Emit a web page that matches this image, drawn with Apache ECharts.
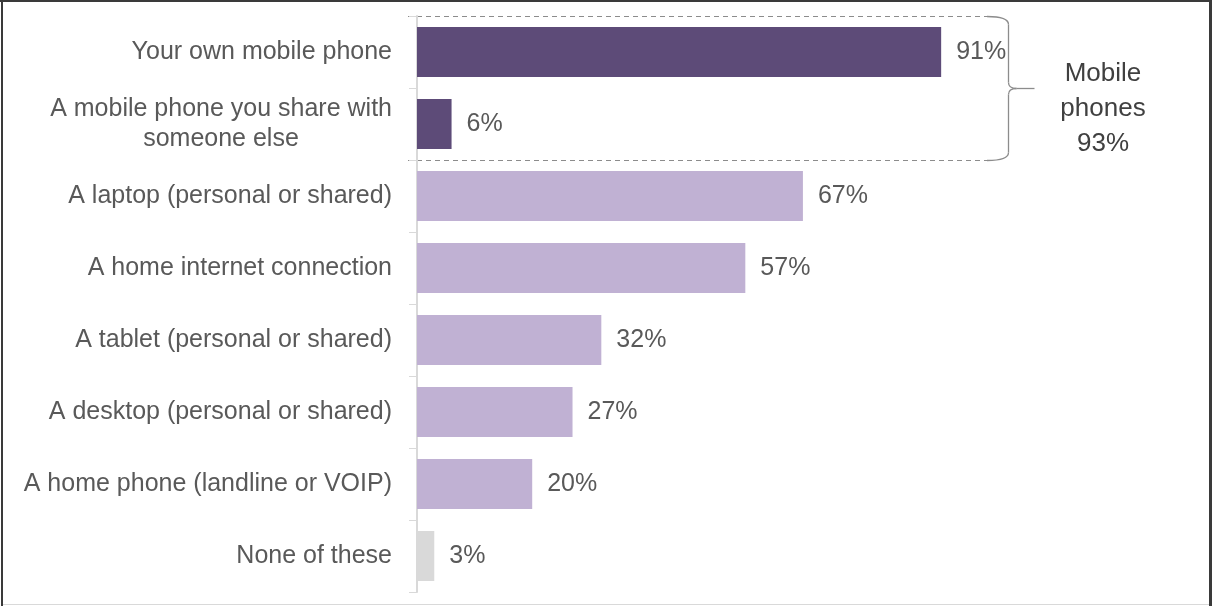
<!DOCTYPE html>
<html>
<head>
<meta charset="utf-8">
<script src="https://cdn.jsdelivr.net/npm/echarts@6/dist/echarts.min.js"></script>
<style>
  html, body { margin: 0; padding: 0; background: #fff; }
  #chart { width: 1212px; height: 606px; }
</style>
</head>
<body>
<div id="chart"></div>
<script>
// Devices people have access to (share of respondents, %)
const categories = [
  'Your own mobile phone',
  'A mobile phone you share with\nsomeone else',
  'A laptop (personal or shared)',
  'A home internet connection',
  'A tablet (personal or shared)',
  'A desktop (personal or shared)',
  'A home phone (landline or VOIP)',
  'None of these'
];
const values = [91, 6, 67, 57, 32, 27, 20, 3];
const groups = ['mobile', 'mobile', 'other', 'other', 'other', 'other', 'other', 'none'];

// Combined mobile-phone figure shown beside the bracket
const mobileLabel = ['Mobile', 'phones'];
const mobileTotal = 93;

const FONT = '"Liberation Sans", Arial, sans-serif';
const TEXT = '#595959';
const groupColors = { mobile: '#5d4b78', other: '#c0b1d3', none: '#d9d9d9' };

// width of the first line of a wrapped label, so the second line can be centred under it
function textWidth(str, size) {
  const ctx = document.createElement('canvas').getContext('2d');
  ctx.font = size + 'px ' + FONT;
  return Math.ceil(ctx.measureText(str).width);
}
const wrapWidth = Math.max.apply(null, categories.filter(c => c.indexOf('\n') >= 0)
  .map(c => textWidth(c.split('\n')[0], 25)));

const chart = echarts.init(document.getElementById('chart'), null, { renderer: 'canvas' });

const GRID = { left: 417, right: 219, top: 16, bottom: 14 };

chart.setOption({
  animation: false,
  backgroundColor: '#fff',
  grid: GRID,
  xAxis: { type: 'value', min: 0, max: 100, show: false },
  yAxis: {
    type: 'category',
    inverse: true,
    data: categories,
    axisLine: { show: true, lineStyle: { color: '#d9d9d9', width: 2 } },
    axisTick: { show: true, length: 8, lineStyle: { color: '#d9d9d9', width: 1 } },
    axisLabel: {
      margin: 25,
      color: TEXT,
      fontSize: 25,
      fontFamily: FONT,
      lineHeight: 30,
      formatter: function (v) {
        if (v.indexOf('\n') < 0) return v;
        const parts = v.split('\n');
        return '{a|' + parts[0] + '}\n{b|' + parts[1] + '}';
      },
      rich: {
        a: { color: TEXT, fontSize: 25, fontFamily: FONT, lineHeight: 30 },
        b: { color: TEXT, fontSize: 25, fontFamily: FONT, lineHeight: 30, width: wrapWidth, align: 'center' }
      }
    },
    splitLine: { show: false }
  },
  series: [{
    type: 'bar',
    barWidth: 50,
    data: values.map((v, i) => ({ value: v, itemStyle: { color: groupColors[groups[i]] } })),
    label: {
      show: true,
      position: 'right',
      distance: 15,
      formatter: '{c}%',
      color: TEXT,
      fontSize: 25,
      fontFamily: FONT
    }
  }]
});

// Bracket around the two mobile-phone rows, placed from the axis scales
const mobileIdx = groups.map((g, i) => g === 'mobile' ? i : -1).filter(i => i >= 0);
const c0 = chart.convertToPixel({ yAxisIndex: 0 }, mobileIdx[0]);
const c1 = chart.convertToPixel({ yAxisIndex: 0 }, mobileIdx[mobileIdx.length - 1]);
const band = chart.convertToPixel({ yAxisIndex: 0 }, 1) - chart.convertToPixel({ yAxisIndex: 0 }, 0);
const yTop = Math.round(c0 - band / 2) + 0.5;
const yBot = Math.round(c1 + band / 2) + 0.5;
const yMid = (yTop + yBot) / 2;
const xStart = GRID.left - 9;
const xDashEnd = Math.round(chart.convertToPixel({ xAxisIndex: 0 }, 99));
const xV = xDashEnd + 21.5;
const xP = xV + 26;

const W = 1212, H = 606;
const BR = { stroke: '#8c8c8c', lineWidth: 1.3, fill: null };
const brace = [
  { type: 'bezierCurve', shape: { x1: xDashEnd, y1: yTop, cpx1: xV, cpy1: yTop, x2: xV, y2: yTop + 8 } },
  { type: 'line', shape: { x1: xV, y1: yTop + 8, x2: xV, y2: yMid - 6 } },
  { type: 'bezierCurve', shape: { x1: xV, y1: yMid - 6, cpx1: xV, cpy1: yMid, x2: xV + 8, y2: yMid } },
  { type: 'line', shape: { x1: xV + 8, y1: yMid, x2: xP, y2: yMid } },
  { type: 'bezierCurve', shape: { x1: xV + 8, y1: yMid, cpx1: xV, cpy1: yMid, x2: xV, y2: yMid + 6 } },
  { type: 'line', shape: { x1: xV, y1: yMid + 6, x2: xV, y2: yBot - 8 } },
  { type: 'bezierCurve', shape: { x1: xV, y1: yBot - 8, cpx1: xV, cpy1: yBot, x2: xDashEnd, y2: yBot } }
].map(e => Object.assign(e, { style: BR, silent: true }));

chart.setOption({
  graphic: [
    // frame
    { type: 'rect', shape: { x: 0, y: 0, width: W, height: 2 }, style: { fill: '#3a3a3a' }, silent: true },
    { type: 'rect', shape: { x: 1, y: 0, width: 2, height: H }, style: { fill: '#3a3a3a' }, silent: true },
    { type: 'rect', shape: { x: W - 3, y: 0, width: 3, height: H }, style: { fill: '#3a3a3a' }, silent: true },
    { type: 'rect', shape: { x: 3, y: H - 2, width: W - 6, height: 1 }, style: { fill: '#d9d9d9' }, silent: true },
    // dashed group outline
    { type: 'line', shape: { x1: xStart, y1: yTop, x2: xDashEnd, y2: yTop },
      style: { stroke: '#8c8c8c', lineWidth: 1, lineDash: [5, 4] }, silent: true },
    { type: 'line', shape: { x1: xStart, y1: yBot, x2: xDashEnd, y2: yBot },
      style: { stroke: '#8c8c8c', lineWidth: 1, lineDash: [5, 4] }, silent: true }
  ].concat(brace).concat([
    // group total
    { type: 'text', x: 1103, y: yMid - 32,
      style: {
        text: mobileLabel.concat([mobileTotal + '%']).join('\n'),
        fill: '#404040', font: '26px ' + FONT, lineHeight: 35,
        align: 'center', verticalAlign: 'top'
      }, silent: true }
  ])
});
</script>
</body>
</html>
